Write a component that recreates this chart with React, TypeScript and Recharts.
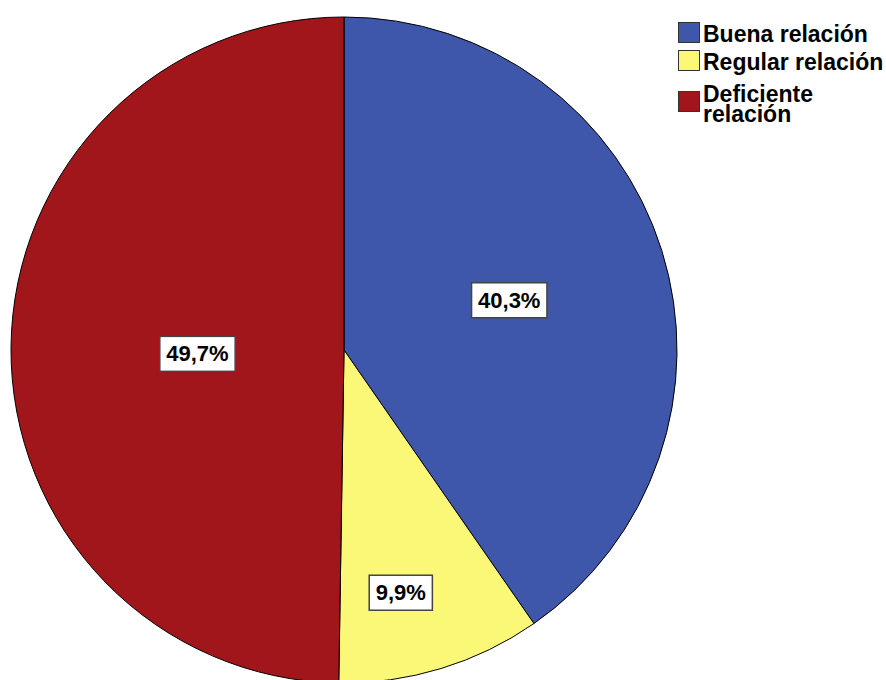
import React from 'react';
import { PieChart, Pie, Cell, Legend } from 'recharts';

const categories = ['Buena relación', 'Regular relación', 'Deficiente relación'];
const percentages = [40.3, 9.9, 49.7];
const colors = ['#3e57aa', '#fbf777', '#a0161a'];

const data = categories.map((name, i) => ({ name, value: percentages[i] }));

const labelRadiusFactor = [0.52, 0.74, 0.44];
const labelShift = [
  [0, 2],
  [-15, 7],
  [0, 5],
];
const RAD = Math.PI / 180;

function textWidth(t: string): number {
  let w = 0;
  for (const ch of t) {
    if (ch === ',') w += 0.278;
    else if (ch === '%') w += 0.889;
    else w += 0.556;
  }
  return w * 22;
}

function renderLabel(props: any) {
  const { cx, cy, midAngle, outerRadius, index, value } = props;
  const r = outerRadius * labelRadiusFactor[index];
  const x = cx + r * Math.cos(-midAngle * RAD) + labelShift[index][0];
  const y = cy + r * Math.sin(-midAngle * RAD) + labelShift[index][1];
  const text = Number(value).toFixed(1).replace('.', ',') + '%';
  const w = textWidth(text) + 13;
  const h = 35;
  return (
    <g>
      <rect x={x - w / 2} y={y - h / 2} width={w} height={h} fill="#ffffff" stroke="#444" strokeWidth={1.5} />
      <text
        x={x}
        y={y}
        textAnchor="middle"
        dominantBaseline="central"
        fontFamily="'Liberation Sans', Arial, sans-serif"
        fontWeight="bold"
        fontSize={22}
        fill="#000"
      >
        {text}
      </text>
    </g>
  );
}

const legendGaps = [6, 12, 0];
const squareTop = [0, 0, 7];
const textTop = [2, 2, 0];

function LegendContent() {
  return (
    <div style={{ fontFamily: "'Liberation Sans', Arial, sans-serif", fontWeight: 'bold', fontSize: 23, color: '#000' }}>
      {categories.map((name, i) => (
        <div key={name} style={{ display: 'flex', alignItems: 'flex-start', marginBottom: legendGaps[i] }}>
          <div
            style={{
              width: 22,
              height: 21,
              background: colors[i],
              border: '1px solid #333',
              boxSizing: 'border-box',
              flex: '0 0 auto',
              marginTop: squareTop[i],
            }}
          />
          <div style={{ marginLeft: 3, lineHeight: '20px', marginTop: textTop[i], maxWidth: 190 }}>{name}</div>
        </div>
      ))}
    </div>
  );
}

export default function App() {
  return (
    <div style={{ position: 'absolute', left: 0, top: 0, width: 886, height: 680, background: '#fff' }}>
      <PieChart width={886} height={680} margin={{ top: 0, right: 0, bottom: 0, left: 0 }}>
        <Pie
          data={data}
          dataKey="value"
          nameKey="name"
          cx={344}
          cy={350}
          outerRadius={333}
          startAngle={90}
          endAngle={-270}
          stroke="#000"
          strokeWidth={1}
          label={renderLabel}
          labelLine={false}
          isAnimationActive={false}
        >
          {data.map((d, i) => (
            <Cell key={d.name} fill={colors[i]} />
          ))}
        </Pie>
        <Legend
          content={<LegendContent />}
          wrapperStyle={{ position: 'absolute', top: 22, left: 678, width: 208 }}
        />
      </PieChart>
    </div>
  );
}
